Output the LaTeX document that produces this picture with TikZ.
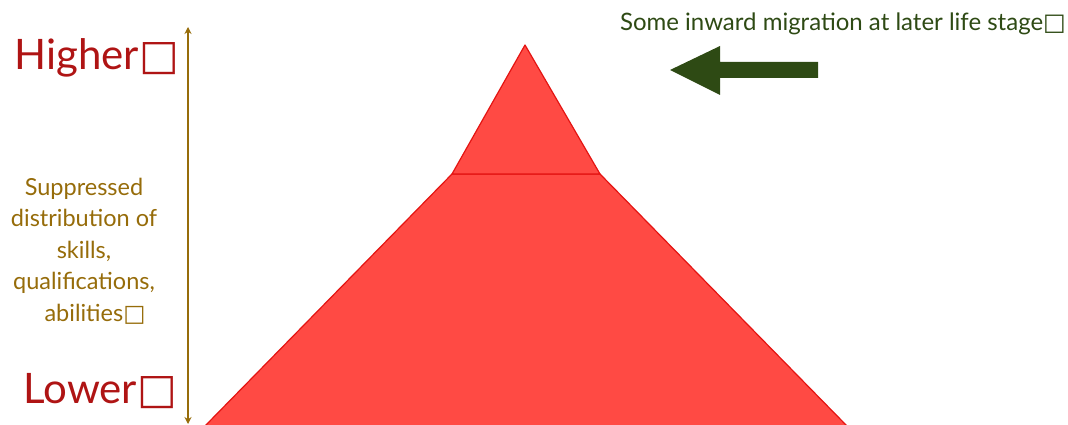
\documentclass[tikz,border=0pt]{standalone}
\usepackage{fontspec}
\setmainfont{Lato}
\newfontfamily\boxfont{DejaVu Sans}
\usepackage{tikz}
\usetikzlibrary{calc, positioning, arrows.meta}
\definecolor{levelRed}{RGB}{175, 20, 20}
\definecolor{skillBrown}{RGB}{150, 108, 10}
\definecolor{migGreen}{RGB}{46, 74, 20}
\definecolor{pyrFill}{RGB}{255, 74, 68}
\definecolor{pyrLine}{RGB}{228, 20, 18}
\newcommand{\missbox}{{\boxfont\char"25A1}}

\begin{document}
\begin{tikzpicture}[x=1pt, y=-1pt, >=Stealth,
  every node/.style={inner sep=0pt, align=center},
  level/.style={text=levelRed, font=\fontsize{42}{48}\selectfont},
  pyr/.style={draw=pyrLine, fill=pyrFill, line width=1.2pt, line join=round}]
  \useasboundingbox (0,0) rectangle (1068,425);
  % pyramid
  \coordinate (apex) at (525,45);
  \coordinate (midL) at (452,174);
  \coordinate (midR) at (600,174);
  \coordinate (baseL) at (205,426);
  \coordinate (baseR) at (847,426);
  \draw[pyr] (midL) -- (baseL) -- (baseR) -- (midR) -- cycle;
  \draw[pyr] (apex) -- (midL) -- (midR) -- cycle;
  % scale on the left
  \node[level, anchor=base east] (higher) at (179,70) {Higher\missbox};
  \node[level, anchor=base east] (lower) at (177,403) {Lower\missbox};
  \coordinate (scaleTop) at (188,27);
  \coordinate (scaleBot) at (188,424);
  \draw[<->, skillBrown, line width=1.8pt, >={Stealth[length=7pt, width=7pt]}]
    (scaleTop) -- (scaleBot);
  \node[text=skillBrown, font=\fontsize{23.5}{31.5}\selectfont] (skills) at (84,251)
    {Suppressed\\distribution of\\skills,\\qualifications,\\\hspace*{22pt}abilities\missbox};
  % migration
  \node[text=migGreen, font=\fontsize{24}{30}\selectfont, anchor=base east]
    (migration) at (1066,31) {Some inward migration at later life stage\missbox};
  \fill[migGreen] (818,62) -- (720,62) -- (720,46) -- (670,70)
    -- (720,95) -- (720,78) -- (818,78) -- cycle;
\end{tikzpicture}
\end{document}
